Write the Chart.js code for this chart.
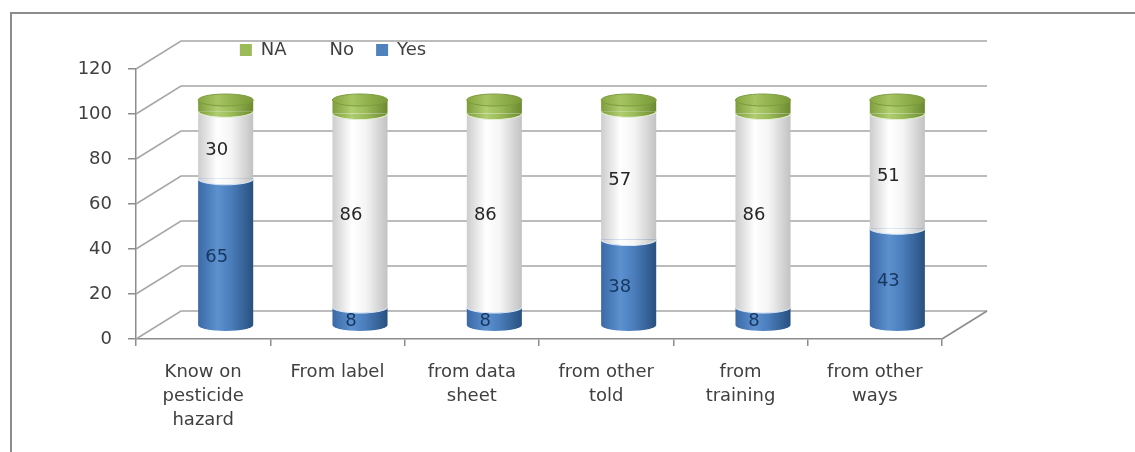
<!DOCTYPE html>
<html>
<head>
<meta charset="utf-8">
<script src="https://cdn.jsdelivr.net/npm/chart.js@4.4.1/dist/chart.umd.min.js"></script>
<style>
  html, body { margin: 0; padding: 0; background: #fff; }
  #wrap { position: relative; width: 1135px; height: 452px; }
  #frame { position: absolute; left: 10px; top: 12px; right: 0; bottom: 0; border-left: 2px solid #8c8c8c; border-top: 2px solid #8c8c8c; pointer-events: none; }
</style>
</head>
<body>
<div id="wrap">
  <canvas id="chart" width="1135" height="452"></canvas>
  <div id="frame"></div>
</div>
<script>
// data
const categories = [
  ["Know on", "pesticide", "hazard"],
  "From label",
  ["from data", "sheet"],
  ["from other", "told"],
  ["from", "training"],
  ["from other", "ways"],
];
const yesValues = [65, 8, 8, 38, 8, 43];
const noValues = [30, 86, 86, 57, 86, 51];
const naValues = [5, 6, 6, 5, 6, 6];
const yTickValues = [0, 20, 40, 60, 80, 100, 120];

// look
const FONT = "DejaVu Sans";
const AXIS_COLOR = "#8c8c8c";
const GRID_COLOR = "#a6a6a6";
const TEXT_COLOR = "#404040";
const DEPTH_X = 45;
const DEPTH_Y = 28;
const BAR_PCT = 0.41;
const CAP_RY = 6;
const LEGEND_CENTER = 333;

const yesStops = ["#3a6aa6", "#5d90cf", "#4a7dbb", "#28507f"];
const noStops = ["#cdcdcd", "#ffffff", "#f5f5f5", "#c2c2c2"];
const naStops = ["#7e9e3c", "#b0cd6f", "#9bbb59", "#6c8b30"];
const solidColors = ["#4f81bd", "#ffffff", "#9bbb59"];
const labelColors = ["#17375e", "#262626"];

function makeGradient(ctx, cx, half, stops) {
  const g = ctx.createLinearGradient(cx - half, 0, cx + half, 0);
  g.addColorStop(0, stops[0]);
  g.addColorStop(0.35, stops[1]);
  g.addColorStop(0.6, stops[2]);
  g.addColorStop(1, stops[3]);
  return g;
}

function cylinderFill(stops) {
  return (c) => {
    const chart = c.chart;
    const xs = chart.scales.xb;
    if (!xs || c.type !== "data") return stops[2];
    const cx = xs.getPixelForValue(c.dataIndex);
    const half = (xs.width / categories.length) * BAR_PCT / 2;
    if (!isFinite(cx) || !isFinite(half) || half <= 0) return stops[2];
    return makeGradient(chart.ctx, cx, half, stops);
  };
}

// shifts the bar scales half way into the depth, draws walls, caps and labels
const depthPlugin = {
  id: "depth",
  afterLayout(chart) {
    const xb = chart.scales.xb;
    const yb = chart.scales.yb;
    xb.left += DEPTH_X / 2;
    xb.right += DEPTH_X / 2;
    xb.configure();
    yb.top -= DEPTH_Y / 2;
    yb.bottom -= DEPTH_Y / 2;
    yb.configure();
    const lg = chart.legend;
    lg.left = LEGEND_CENTER - 300;
    lg.right = LEGEND_CENTER + 300;
  },
  beforeDatasetsDraw(chart) {
    const ctx = chart.ctx;
    const x = chart.scales.x;
    const y = chart.scales.y;
    ctx.save();
    ctx.strokeStyle = GRID_COLOR;
    ctx.lineWidth = 1.5;
    y.ticks.forEach((t) => {
      const py = y.getPixelForValue(t.value);
      ctx.beginPath();
      ctx.moveTo(x.left, py);
      ctx.lineTo(x.left + DEPTH_X, py - DEPTH_Y);
      ctx.lineTo(x.right + DEPTH_X, py - DEPTH_Y);
      ctx.stroke();
    });
    const p0 = y.getPixelForValue(0);
    ctx.strokeStyle = AXIS_COLOR;
    ctx.beginPath();
    ctx.moveTo(x.right, p0);
    ctx.lineTo(x.right + DEPTH_X, p0 - DEPTH_Y);
    ctx.stroke();
    ctx.restore();
  },
  afterDatasetsDraw(chart) {
    const ctx = chart.ctx;
    const metas = [0, 1, 2].map((i) => chart.getDatasetMeta(i));
    const stopsList = [yesStops, noStops, naStops];
    ctx.save();
    metas[0].data.forEach((_, i) => {
      const yes = metas[0].data[i];
      const no = metas[1].data[i];
      const na = metas[2].data[i];
      const cx = yes.x;
      const half = yes.width / 2;
      // bottom of the cylinder
      ctx.fillStyle = makeGradient(ctx, cx, half, yesStops);
      ctx.beginPath();
      ctx.ellipse(cx, yes.base, half, CAP_RY, 0, 0, Math.PI);
      ctx.fill();
      // segment joints
      [[no, 1], [na, 2]].forEach(([el, di]) => {
        ctx.fillStyle = makeGradient(ctx, cx, half, stopsList[di]);
        ctx.beginPath();
        ctx.ellipse(cx, el.base, half, CAP_RY, 0, 0, Math.PI);
        ctx.fill();
        ctx.strokeStyle = di === 1 ? "#d6e6f5" : "#e3edcf";
        ctx.lineWidth = 1.2;
        ctx.stroke();
      });
      // top cap
      ctx.fillStyle = makeGradient(ctx, cx, half, ["#86a642", "#a6c462", "#93b350", "#7a9938"]);
      ctx.strokeStyle = "#7d9b3d";
      ctx.lineWidth = 1;
      ctx.beginPath();
      ctx.ellipse(cx, na.y, half, CAP_RY, 0, 0, Math.PI * 2);
      ctx.fill();
      ctx.stroke();
    });
    // value labels for Yes and No
    ctx.font = "18px '" + FONT + "'";
    ctx.textAlign = "center";
    ctx.textBaseline = "middle";
    [0, 1].forEach((di) => {
      metas[di].data.forEach((el, i) => {
        const v = chart.data.datasets[di].data[i];
        ctx.fillStyle = labelColors[di];
        ctx.fillText(String(v), el.x - 9, (el.y + el.base) / 2 + 5);
      });
    });
    ctx.restore();
  },
};

const ctx = document.getElementById("chart").getContext("2d");
new Chart(ctx, {
  type: "bar",
  data: {
    labels: categories,
    datasets: [
      { label: "Yes", data: yesValues, backgroundColor: cylinderFill(yesStops), xAxisID: "xb", yAxisID: "yb" },
      { label: "No", data: noValues, backgroundColor: cylinderFill(noStops), xAxisID: "xb", yAxisID: "yb" },
      { label: "NA", data: naValues, backgroundColor: cylinderFill(naStops), xAxisID: "xb", yAxisID: "yb" },
    ],
  },
  options: {
    responsive: false,
    animation: false,
    devicePixelRatio: 1,
    barPercentage: BAR_PCT,
    categoryPercentage: 1,
    layout: { padding: { left: 0, right: 193, top: 19, bottom: 0 } },
    plugins: {
      tooltip: { enabled: false },
      legend: {
        position: "top",
        reverse: true,
        labels: {
          boxWidth: 12,
          boxHeight: 12,
          padding: 22,
          color: TEXT_COLOR,
          font: { family: FONT, size: 18 },
          generateLabels: (chart) => {
            const items = Chart.defaults.plugins.legend.labels.generateLabels(chart);
            items.forEach((it) => {
              it.fillStyle = solidColors[it.datasetIndex];
              it.strokeStyle = "rgba(0,0,0,0)";
              it.lineWidth = 0;
            });
            return items;
          },
        },
      },
    },
    scales: {
      x: {
        type: "category",
        position: "bottom",
        grid: { display: true, drawOnChartArea: false, drawTicks: true, tickLength: 7, offset: true, color: AXIS_COLOR, lineWidth: 1.5 },
        border: { display: true, color: AXIS_COLOR, width: 1.5 },
        ticks: { font: { family: FONT, size: 18, lineHeight: 1.33 }, color: TEXT_COLOR, padding: 14, maxRotation: 0, autoSkip: false },
        afterFit: (s) => { s.height = 113; },
      },
      y: {
        position: "left",
        min: 0,
        max: 120,
        afterBuildTicks: (s) => { s.ticks = yTickValues.map((v) => ({ value: v })); },
        grid: { drawOnChartArea: false, drawTicks: true, tickLength: 8, color: AXIS_COLOR, lineWidth: 1.5 },
        border: { display: true, color: AXIS_COLOR, width: 1.5 },
        ticks: { font: { family: FONT, size: 18 }, color: TEXT_COLOR, padding: 16 },
        afterFit: (s) => { s.width = 136; },
      },
      xb: { type: "category", display: false, stacked: true, offset: true },
      yb: { type: "linear", display: false, stacked: true, min: 0, max: 120 },
    },
  },
  plugins: [depthPlugin],
});
</script>
</body>
</html>
